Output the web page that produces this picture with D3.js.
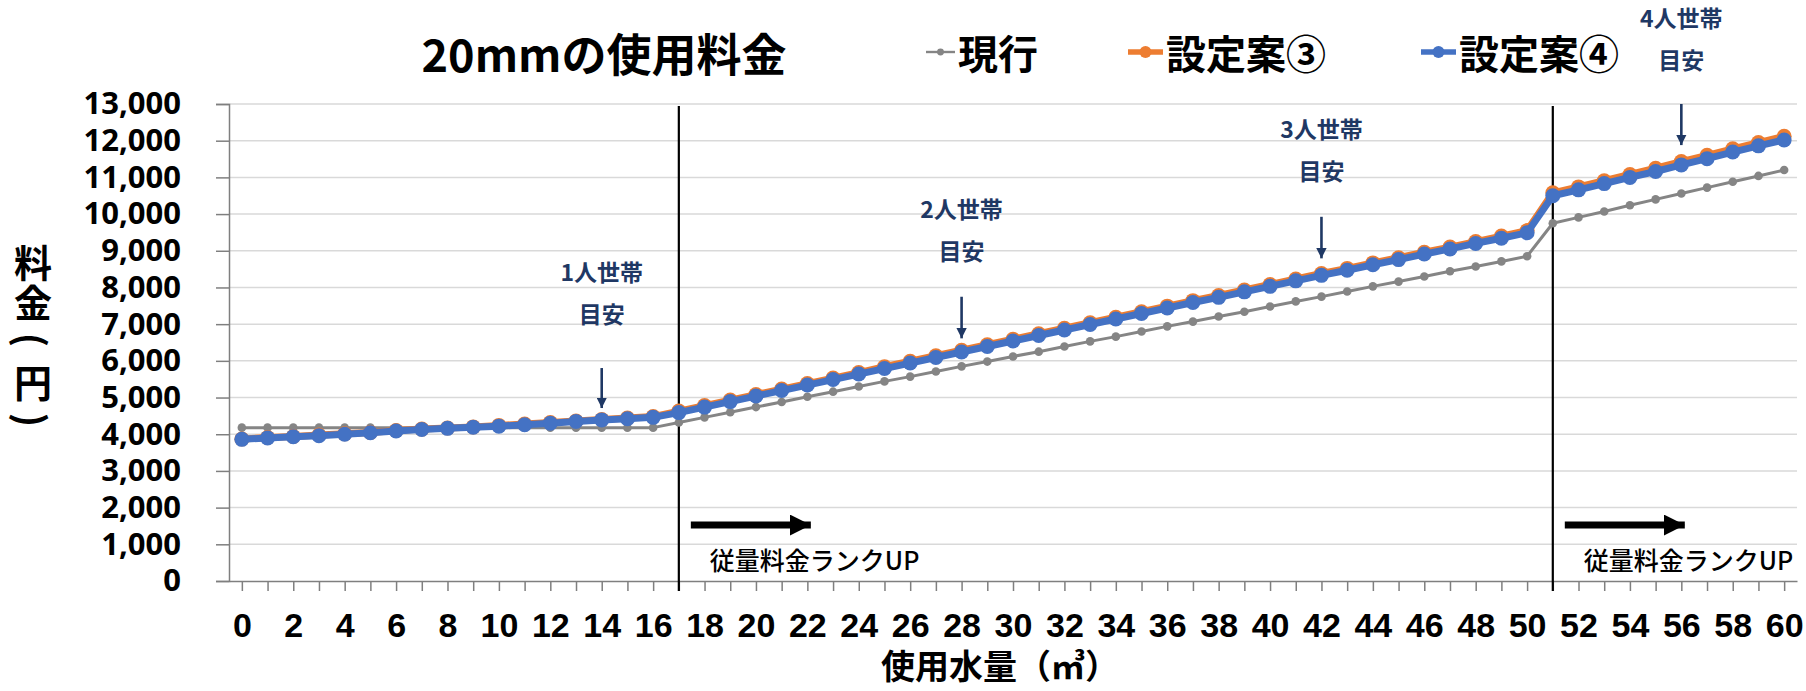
<!DOCTYPE html>
<html>
<head>
<meta charset="utf-8">
<script src="https://cdn.jsdelivr.net/npm/d3@7"></script>
<style>
  body { margin: 0; background: #fff; }
  svg { font-family: "Noto Sans CJK JP", "Noto Sans", sans-serif; }
</style>
</head>
<body>
<svg></svg>
<script>
let usage = d3.range(0, 61)
let xTickLabels = d3.range(0, 61, 2)
let yTicks = d3.range(0, 13001, 1000)

let genko = [
  4180, 4180, 4180, 4180, 4180, 4180, 4180, 4180, 4180, 4180, 4180, 4180, 4180, 4180, 4180, 4180, 4180,
  4320, 4460, 4600, 4740, 4880, 5020, 5160, 5300, 5440, 5570, 5710, 5850, 5980, 6120, 6250, 6390, 6530,
  6660, 6800, 6940, 7070, 7210, 7340, 7480, 7620, 7750, 7890, 8030, 8160, 8300, 8440, 8570, 8710, 8850,
  9750, 9910, 10070, 10240, 10400, 10560, 10720, 10880, 11040, 11200
]
let an3 = [
  3870, 3910, 3940, 3980, 4010, 4050, 4100, 4140, 4170, 4200, 4240, 4280, 4320, 4360, 4400, 4440, 4480,
  4630, 4780, 4930, 5080, 5230, 5380, 5530, 5680, 5840, 5990, 6140, 6290, 6440, 6590, 6740, 6890, 7040,
  7190, 7340, 7490, 7640, 7780, 7930, 8080, 8230, 8380, 8520, 8670, 8810, 8960, 9100, 9250, 9400, 9550,
  10580, 10740, 10910, 11080, 11250, 11430, 11600, 11780, 11950, 12120
]
let an4 = [
  3860, 3900, 3930, 3960, 4000, 4040, 4090, 4130, 4160, 4190, 4220, 4260, 4300, 4350, 4390, 4420, 4460,
  4590, 4740, 4890, 5040, 5190, 5340, 5490, 5640, 5790, 5940, 6090, 6240, 6390, 6540, 6690, 6840, 6990,
  7140, 7290, 7440, 7590, 7730, 7880, 8030, 8180, 8330, 8470, 8620, 8760, 8910, 9050, 9200, 9340, 9490,
  10500, 10660, 10830, 11000, 11160, 11340, 11510, 11690, 11860, 12020
]

let seriesNames = ["現行", "設定案③", "設定案④"]
let rankLines = [17, 51]
let rankText = "従量料金ランクUP"

// household guides: category, label, arrow top / bottom in yen
let guideCats = [14, 28, 42, 56]
let guideLabels = ["1人世帯", "2人世帯", "3人世帯", "4人世帯"]
let guideTop = [5804, 7747, 9926, 13000]
let guideBottom = [4714, 6613, 8793, 11880]
let guideTextGap = [55, 47, 47, 45]

// vertical title, brackets are turned sideways
let yTitleChars = ["料", "金", "(", "円", ")"]
let yTitleTurned = [false, false, true, false, true]

let width = 1806
let height = 691
let plotLeft = 229
let plotRight = 1797
let plotTop = 104
let plotBottom = 581

let svg = d3.select("svg").attr("width", width).attr("height", height)

let xScale = d3.scalePoint().domain(usage).range([plotLeft, plotRight]).padding(0.5)
let yScale = d3.scaleLinear().domain([0, 13000]).range([plotBottom, plotTop])

let navy = "#1f3864"
let colors = ["#858585", "#ed7d31", "#4472c4"]

// arrow heads
let defs = svg.append("defs")
defs.append("marker")
    .attr("id", "headNavy")
    .attr("viewBox", "0 0 10 10")
    .attr("refX", 10).attr("refY", 5)
    .attr("markerWidth", 4).attr("markerHeight", 4)
    .attr("markerUnits", "strokeWidth")
    .attr("orient", "auto")
  .append("path").attr("d", "M0,0 L10,5 L0,10 Z").attr("fill", navy)
defs.append("marker")
    .attr("id", "headBlack")
    .attr("viewBox", "0 0 10 10")
    .attr("refX", 10).attr("refY", 5)
    .attr("markerWidth", 3).attr("markerHeight", 3)
    .attr("markerUnits", "strokeWidth")
    .attr("orient", "auto")
  .append("path").attr("d", "M0,0 L10,5 L0,10 Z").attr("fill", "#000")

// gridlines
svg.append("g")
   .selectAll("line")
   .data(yTicks.filter(d => d > 0))
   .enter()
   .append("line")
   .attr("x1", plotLeft).attr("x2", plotRight)
   .attr("y1", d => yScale(d)).attr("y2", d => yScale(d))
   .attr("stroke", "#d9d9d9").attr("stroke-width", 1.5)

// y axis
let yAxis = svg.append("g")
   .attr("transform", "translate(" + plotLeft + ",0)")
   .call(d3.axisLeft(yScale).tickValues(yTicks).tickSize(13).tickPadding(35).tickFormat(d3.format(",")))
yAxis.select(".domain").attr("stroke", "#7f7f7f").attr("stroke-width", 1.5)
yAxis.selectAll(".tick line").attr("stroke", "#7f7f7f").attr("stroke-width", 1.5)
yAxis.selectAll("text")
     .attr("fill", "#000")
     .style("font-size", "31px")
     .style("font-weight", "bold")
     .style("font-family", "'Noto Sans', sans-serif")

// x axis: a tick per category, labels on even values only
let xAxis = svg.append("g")
   .attr("transform", "translate(0," + plotBottom + ")")
   .call(d3.axisBottom(xScale).tickSize(10).tickPadding(22).tickSizeOuter(0))
xAxis.select(".domain").attr("stroke", "#7f7f7f").attr("stroke-width", 1.5)
xAxis.selectAll(".tick line").attr("stroke", "#7f7f7f").attr("stroke-width", 1.5)
xAxis.selectAll(".tick text")
     .filter(d => !xTickLabels.includes(d))
     .remove()
xAxis.selectAll(".tick text")
     .attr("fill", "#000")
     .style("font-size", "34px")
     .style("font-weight", "bold")

// rank up boundaries
svg.append("g")
   .selectAll("line")
   .data(rankLines)
   .enter()
   .append("line")
   .attr("x1", d => xScale(d)).attr("x2", d => xScale(d))
   .attr("y1", plotTop + 2).attr("y2", plotBottom + 10)
   .attr("stroke", "#000").attr("stroke-width", 2.2)

let rank = svg.append("g")
rank.selectAll("line")
    .data(rankLines)
    .enter()
    .append("line")
    .attr("x1", d => xScale(d) + 12).attr("x2", d => xScale(d) + 132)
    .attr("y1", 525).attr("y2", 525)
    .attr("stroke", "#000").attr("stroke-width", 7)
    .attr("marker-end", "url(#headBlack)")
rank.selectAll("text")
    .data(rankLines)
    .enter()
    .append("text")
    .attr("x", d => xScale(d) + 31)
    .attr("y", 570)
    .style("font-size", "25px")
    .style("font-weight", 500)
    .text(rankText)

// series
let allSeries = [genko, an3, an4]
let lineGen = d3.line().x((d, i) => xScale(usage[i])).y(d => yScale(d))
let widths = [3, 7, 7]
let radii = [4.3, 7.5, 7.5]

allSeries.forEach((s, k) => {
  let g = svg.append("g")
  g.append("path")
   .datum(s)
   .attr("d", lineGen)
   .attr("fill", "none")
   .attr("stroke", colors[k])
   .attr("stroke-width", widths[k])
   .attr("stroke-linejoin", "round")
  g.selectAll("circle")
   .data(s)
   .enter()
   .append("circle")
   .attr("cx", (d, i) => xScale(usage[i]))
   .attr("cy", d => yScale(d))
   .attr("r", radii[k])
   .attr("fill", colors[k])
})

// household guides
let guides = svg.append("g")
guideCats.forEach((c, i) => {
  let x = xScale(c)
  let yTop = yScale(guideTop[i])
  let yText = yTop - guideTextGap[i]
  guides.append("line")
        .attr("x1", x).attr("x2", x)
        .attr("y1", yTop).attr("y2", yScale(guideBottom[i]))
        .attr("stroke", navy).attr("stroke-width", 2.6)
        .attr("marker-end", "url(#headNavy)")
  guides.append("text")
        .attr("x", x).attr("y", yText - 42)
        .attr("text-anchor", "middle").attr("dominant-baseline", "central")
        .attr("fill", navy)
        .style("font-size", "23px").style("font-weight", "bold")
        .text(guideLabels[i])
  guides.append("text")
        .attr("x", x).attr("y", yText)
        .attr("text-anchor", "middle").attr("dominant-baseline", "central")
        .attr("fill", navy)
        .style("font-size", "23px").style("font-weight", "bold")
        .text("目安")
})

// title
svg.append("text")
   .attr("x", 604).attr("y", 52)
   .attr("text-anchor", "middle").attr("dominant-baseline", "central")
   .style("font-size", "45px").style("font-weight", "bold")
   .text("20mmの使用料金")

// legend
let legendX = [926, 1128, 1421]
let legendW = [29, 35, 35]
let legend = svg.append("g")
seriesNames.forEach((name, k) => {
  legend.append("line")
        .attr("x1", legendX[k]).attr("x2", legendX[k] + legendW[k])
        .attr("y1", 52).attr("y2", 52)
        .attr("stroke", colors[k]).attr("stroke-width", widths[k] * 0.8)
  legend.append("circle")
        .attr("cx", legendX[k] + legendW[k] / 2).attr("cy", 52)
        .attr("r", radii[k] * 0.8)
        .attr("fill", colors[k])
  legend.append("text")
        .attr("x", legendX[k] + legendW[k] + 3).attr("y", 52)
        .attr("dominant-baseline", "central")
        .style("font-size", "40px").style("font-weight", "bold")
        .text(name)
})

// axis titles
svg.append("g")
   .selectAll("text")
   .data(yTitleChars)
   .enter()
   .append("text")
   .attr("x", 33)
   .attr("y", (d, i) => 260 + i * 40)
   .attr("transform", (d, i) => yTitleTurned[i] ? "rotate(90,33," + (260 + i * 40) + ")" : null)
   .attr("text-anchor", "middle").attr("dominant-baseline", "central")
   .style("font-size", "38px").style("font-weight", "bold")
   .text(d => d)

svg.append("text")
   .attr("x", 1000).attr("y", 664)
   .attr("text-anchor", "middle").attr("dominant-baseline", "central")
   .style("font-size", "34px").style("font-weight", "bold")
   .text("使用水量（㎥）")
</script>
</body>
</html>
